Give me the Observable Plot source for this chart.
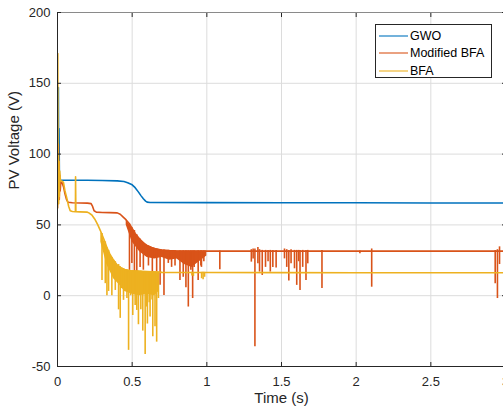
<!DOCTYPE html>
<html>
<head>
<meta charset="utf-8">
<script src="https://cdn.jsdelivr.net/npm/d3@7"></script>
<script src="https://cdn.jsdelivr.net/npm/@observablehq/plot@0.6"></script>
<style>
  html, body { margin: 0; padding: 0; background: #fff; overflow: hidden; }
  #wrap { position: relative; width: 503px; height: 412px; overflow: hidden; }
  #chart svg { max-width: none !important; height: 412px !important; }
  #legend { position: absolute; left: 375px; top: 24px; width: 117px; height: 54px; border: 1px solid #262626; background: #fff;
    font-family: "Liberation Sans", Arial, sans-serif; font-size: 12.5px; color: #000; box-sizing: border-box; }
  .row { position: absolute; left: 0; height: 16px; display: flex; align-items: center; }
  .sw { width: 29px; height: 0; border-top: 2px solid; margin-left: 3px; margin-right: 2px; }
</style>
</head>
<body>
<div id="wrap">
  <div id="chart"></div>
  <div id="legend"></div>
</div>
<script>
// ---- data ----
const seriesNames = ["GWO", "Modified BFA", "BFA"];
const seriesColors = ["#0072BD", "#D95319", "#EDB120"];
const xTicks = [0, 0.5, 1, 1.5, 2, 2.5, 3];
const yTicks = [-50, 0, 50, 100, 150, 200];

// GWO
const gwoT = [0, 0.002, 0.004, 0.006, 0.008, 0.01, 0.013, 0.02, 0.1, 0.2, 0.3, 0.4, 0.445, 0.47, 0.5, 0.52, 0.54, 0.56, 0.575, 0.59, 0.6, 0.62, 1.0, 1.5, 2.0, 2.5, 3.0];
const gwoV = [85, 119, 105, 147, 90, 118, 82, 81.5, 81.5, 81.5, 81.4, 81.1, 80.6, 79.8, 78.3, 76.3, 73.5, 70.5, 68.5, 66.8, 66.1, 65.8, 65.7, 65.6, 65.6, 65.5, 65.5];

// Modified BFA main trace
const mbfaT = [0, 0.002, 0.004, 0.006, 0.008, 0.01, 0.012, 0.015, 0.018, 0.022, 0.03, 0.04, 0.05, 0.06, 0.07, 0.1, 0.15, 0.2, 0.225, 0.235, 0.245, 0.26, 0.3, 0.35, 0.4, 0.42, 0.44, 0.46, 0.48, 0.5, 0.52, 0.55, 0.58, 0.6, 0.63, 0.66, 0.7, 0.75, 0.8, 1.0, 1.5, 2.0, 2.5, 3.0];
const mbfaV = [62, 88, 70, 107, 75, 95, 68, 85, 74, 80, 80, 77, 72, 68, 66, 65.6, 65.5, 65.4, 65, 63, 60, 59, 58.8, 58.7, 58.5, 57.5, 55.5, 53.5, 51, 47.5, 44, 40, 37, 35.5, 34, 33, 32.3, 31.8, 31.6, 31.5, 31.5, 31.5, 31.5, 31.5];
// Modified BFA dense oscillation band
const mbfaBandT  = [0.46, 0.5, 0.55, 0.6, 0.65, 0.7, 0.75, 0.8, 0.85, 0.9, 0.95, 1.0];
const mbfaBandHi = [53.5, 47.5, 40, 35.5, 33.5, 32.3, 31.8, 31.6, 31.5, 31.5, 31.5, 31.5];
const mbfaBandLo = [50, 38, 31, 27, 26, 27, 25, 26, 22, 20, 24, 28];
// Modified BFA spikes
const mbfaSpikeT  = [0.482, 0.498, 0.515, 0.531, 0.553, 0.575, 0.609, 0.635, 0.664, 0.687, 0.713, 0.742, 0.764, 0.787, 0.82, 0.842, 0.86, 0.876, 0.893, 0.905, 0.915, 0.942, 0.96, 0.964, 0.98, 1.087, 1.298, 1.31, 1.322, 1.342, 1.353, 1.371, 1.393, 1.41, 1.425, 1.442, 1.464, 1.52, 1.535, 1.549, 1.564, 1.587, 1.602, 1.615, 1.624, 1.642, 1.664, 1.676, 1.771, 2.025, 2.104, 2.931, 2.946, 2.96];
const mbfaSpikeLo = [17.9, 22.8, 16.7, 13, 20, 18, 21, 14.3, 17, 7.3, 0.2, 22.8, 20, 21, 10.8, 13, 5.6, -8, 18, -2, 20, 10.8, 21, 20, 24, 18.4, 23.7, 26, -36, 22.5, 16.7, 14.3, 20, 24, 16.7, 20, 19.5, 26, 20, 10.3, 22.5, 19, 7.3, 24, 3.7, 20, 10.8, 22.5, 5, 29.6, 6, 8.5, -2, 22];
const mbfaSpikeHi = [50.5, 48, 46, 43, 40, 37.5, 35, 34, 33, 32.5, 32.2, 32, 31.8, 31.7, 31.6, 31.6, 31.5, 31.5, 31.5, 31.5, 31.5, 31.5, 31.5, 31.5, 31.5, 31.5, 32.5, 33, 33, 34, 32.5, 32, 32, 32, 32, 32, 32, 33, 32.5, 32, 32.5, 32, 32, 32, 32, 32, 32, 32, 32, 31.5, 33, 32, 32.5, 34.5];

// BFA main trace
const bfaT = [0, 0.002, 0.004, 0.006, 0.008, 0.01, 0.012, 0.015, 0.02, 0.03, 0.04, 0.045, 0.05, 0.06, 0.075, 0.085, 0.1, 0.12, 0.121, 0.123, 0.15, 0.2, 0.21, 0.23, 0.25, 0.27, 0.287, 0.31, 0.331, 0.35, 0.376, 0.4, 0.42, 0.45, 0.5, 0.6, 0.7, 1.0, 1.5, 2.0, 2.5, 3.0];
const bfaV = [62, 171, 80, 100, 65, 95, 70, 88, 81, 81, 80, 77, 74, 70, 63, 60, 59.5, 59.3, 84, 59.3, 59.2, 59, 58.5, 57, 54, 50, 46, 40, 34, 29.5, 25, 21.5, 20, 18.5, 17.5, 17, 16.5, 16.4, 16.3, 16.2, 16.2, 16.2];
// BFA dense oscillation band
const bfaBandT  = [0.29, 0.33, 0.376, 0.42, 0.45, 0.5, 0.55, 0.6, 0.65, 0.68];
const bfaBandHi = [45, 34, 25, 20, 18.5, 17.5, 17.3, 17, 16.8, 16.7];
const bfaBandLo = [38, 22, 12, 7, 3, 1, 0, 1, 0, 3];
// BFA spikes
const bfaSpikeT  = [0.298, 0.32, 0.331, 0.342, 0.364, 0.376, 0.387, 0.409, 0.42, 0.43, 0.442, 0.465, 0.476, 0.49, 0.504, 0.52, 0.531, 0.542, 0.558, 0.571, 0.587, 0.595, 0.602, 0.614, 0.62, 0.633, 0.638, 0.653, 0.664, 0.676, 0.9, 0.91, 0.965, 0.975, 0.985];
const bfaSpikeLo = [10.8, 8.5, 0, 3, 0, 12, 3.7, -10, -16, 5, -3.3, -2, -38.6, 0, -14, -7, -10.4, -20.5, -10, -25, -41.5, -8, -20, -5, -15, -3, -29, -22, -32.8, -2, 14, 13.5, 12, 11.3, 13];
const bfaSpikeHi = [44, 38, 34, 32, 27, 25, 24, 22, 20.5, 19.5, 19, 18, 17.8, 17.7, 17.5, 17.4, 17.4, 17.3, 17.2, 17.1, 17, 17, 17, 16.9, 16.9, 16.8, 16.8, 16.8, 16.7, 16.7, 16.5, 16.5, 16.5, 16.5, 16.5];

// ---- build tables ----
const pts = (T, V) => T.map((t, i) => ({t, v: V[i]}));
const band = (T, L, H) => T.map((t, i) => ({t, lo: L[i], hi: H[i]}));

const gwo = pts(gwoT, gwoV);
const mbfa = pts(mbfaT, mbfaV);
const bfa = pts(bfaT, bfaV);
const mbfaBand = band(mbfaBandT, mbfaBandLo, mbfaBandHi);
const bfaBand = band(bfaBandT, bfaBandLo, bfaBandHi);
const mbfaSpikes = band(mbfaSpikeT, mbfaSpikeLo, mbfaSpikeHi);
const bfaSpikes = band(bfaSpikeT, bfaSpikeLo, bfaSpikeHi);

const [cG, cM, cB] = seriesColors;
const noLabel = () => "";

const chart = Plot.plot({
  width: 510, height: 412,
  marginLeft: 57, marginRight: 5, marginTop: 12, marginBottom: 46,
  x: {domain: [0, 3], label: null},
  y: {domain: [-50, 200], label: null},
  style: {fontFamily: "'Liberation Sans', Arial, sans-serif", fontSize: "13px", color: "#262626", background: "#fff"},
  marks: [
    Plot.gridX(xTicks, {stroke: "#dcdcdc", strokeOpacity: 1}),
    Plot.gridY(yTicks, {stroke: "#dcdcdc", strokeOpacity: 1}),
    Plot.line(gwo, {x: "t", y: "v", stroke: cG, strokeWidth: 1.6, clip: true}),
    Plot.areaY(mbfaBand, {x: "t", y1: "lo", y2: "hi", fill: cM, fillOpacity: 1, clip: true}),
    Plot.ruleX(mbfaSpikes, {x: "t", y1: "lo", y2: "hi", stroke: cM, strokeWidth: 1.6, clip: true}),
    Plot.line(mbfa, {x: "t", y: "v", stroke: cM, strokeWidth: 1.6, clip: true}),
    Plot.areaY(bfaBand, {x: "t", y1: "lo", y2: "hi", fill: cB, fillOpacity: 1, clip: true}),
    Plot.ruleX(bfaSpikes, {x: "t", y1: "lo", y2: "hi", stroke: cB, strokeWidth: 1.6, clip: true}),
    Plot.line(bfa, {x: "t", y: "v", stroke: cB, strokeWidth: 1.6, clip: true}),
    Plot.ruleY([200], {stroke: "#8a8a8a"}),
    Plot.ruleX([0], {stroke: "#262626"}),
    Plot.ruleY([-50], {stroke: "#262626"}),
    Plot.axisX(xTicks, {anchor: "bottom", tickSize: 0, tickPadding: 10, tickFormat: d => String(d), fill: "#262626"}),
    Plot.axisX(xTicks, {anchor: "bottom", tickSize: -4, tickFormat: noLabel, stroke: "#262626"}),
    Plot.axisX(xTicks, {anchor: "top", tickSize: -4, tickFormat: noLabel, stroke: "#262626"}),
    Plot.axisY(yTicks, {anchor: "left", tickSize: 0, tickPadding: 7, tickFormat: d => String(d), fill: "#262626"}),
    Plot.axisY(yTicks, {anchor: "left", tickSize: -4, tickFormat: noLabel, stroke: "#262626"}),
    Plot.axisY(yTicks, {anchor: "right", tickSize: -4, tickFormat: noLabel, stroke: "#262626"}),
    Plot.text(["Time (s)"], {frameAnchor: "bottom", dy: 36, fontSize: 15, fill: "#262626"}),
    Plot.text(["PV Voltage (V)"], {frameAnchor: "left", dx: -43, rotate: -90, fontSize: 15, fill: "#262626"})
  ]
});
document.getElementById("chart").appendChild(chart);

// legend
const lg = document.getElementById("legend");
seriesNames.forEach((name, i) => {
  const row = document.createElement("div");
  row.className = "row";
  row.style.top = (3 + i * 17.3) + "px";
  const sw = document.createElement("div");
  sw.className = "sw";
  sw.style.borderColor = seriesColors[i];
  sw.style.opacity = 0.55;
  const tx = document.createElement("span");
  tx.textContent = name;
  row.appendChild(sw);
  row.appendChild(tx);
  lg.appendChild(row);
});
</script>
</body>
</html>
